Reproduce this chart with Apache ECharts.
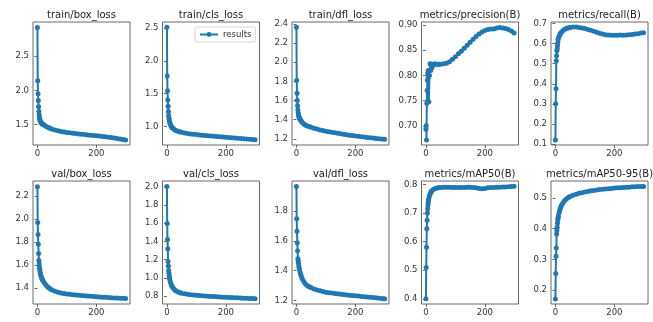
<!DOCTYPE html>
<html>
<head>
<meta charset="utf-8">
<script type="text/javascript" src="https://cdn.jsdelivr.net/npm/echarts@6/dist/echarts.min.js"></script>
<style>
    html, body { margin: 0; padding: 0; background: #fff; }
    #main { width: 653px; height: 322px; }
</style>
</head>
<body>
<div id="main"></div>
<script>
    var epochs = [0,1,2,3,4,5,6,7,8,9,10,12,14,16,18,20,25,30,35,40,45,50,60,70,80,90,100,110,120,130,140,150,160,170,180,190,200,210,220,230,240,250,260,270,280,290,299];

    var trainBox = [2.92,2.14,1.95,1.85,1.76,1.69,1.64,1.60,1.58,1.56,1.545,1.53,1.52,1.51,1.505,1.50,1.485,1.47,1.46,1.45,1.44,1.43,1.418,1.408,1.399,1.391,1.384,1.378,1.372,1.367,1.362,1.357,1.352,1.348,1.343,1.339,1.335,1.330,1.325,1.320,1.314,1.308,1.302,1.295,1.288,1.280,1.272];
    var trainCls = [2.51,1.77,1.545,1.405,1.31,1.23,1.17,1.13,1.10,1.075,1.055,1.03,1.01,0.995,0.983,0.973,0.955,0.942,0.932,0.925,0.918,0.912,0.903,0.895,0.889,0.883,0.878,0.873,0.869,0.865,0.861,0.857,0.853,0.849,0.845,0.841,0.838,0.834,0.830,0.826,0.822,0.818,0.814,0.810,0.806,0.802,0.798];
    var trainDfl = [2.365,1.81,1.675,1.60,1.545,1.50,1.47,1.45,1.435,1.425,1.42,1.405,1.395,1.386,1.378,1.37,1.355,1.345,1.337,1.33,1.325,1.32,1.31,1.301,1.293,1.286,1.279,1.273,1.267,1.262,1.257,1.252,1.247,1.243,1.238,1.234,1.23,1.226,1.222,1.218,1.214,1.21,1.207,1.204,1.201,1.198,1.195];
    var precision = [0.693,0.700,0.672,0.745,0.770,0.790,0.805,0.795,0.810,0.800,0.748,0.800,0.823,0.810,0.822,0.815,0.820,0.823,0.822,0.822,0.822,0.822,0.823,0.824,0.827,0.832,0.837,0.843,0.848,0.854,0.860,0.866,0.872,0.877,0.882,0.886,0.889,0.891,0.892,0.892,0.894,0.895,0.894,0.893,0.891,0.888,0.884];
    var recall = [0.12,0.30,0.375,0.515,0.54,0.565,0.575,0.59,0.605,0.62,0.628,0.635,0.642,0.648,0.653,0.657,0.664,0.670,0.674,0.677,0.679,0.681,0.683,0.683,0.681,0.678,0.675,0.671,0.667,0.662,0.657,0.652,0.648,0.645,0.643,0.642,0.642,0.642,0.643,0.642,0.643,0.644,0.646,0.648,0.650,0.653,0.655];
    var valBox = [2.28,1.97,1.865,1.78,1.70,1.64,1.61,1.58,1.56,1.54,1.525,1.505,1.49,1.478,1.468,1.46,1.44,1.425,1.41,1.40,1.39,1.383,1.372,1.364,1.358,1.353,1.349,1.346,1.343,1.34,1.337,1.335,1.333,1.331,1.329,1.327,1.325,1.323,1.321,1.32,1.318,1.317,1.315,1.314,1.312,1.311,1.31];
    var valCls = [2.0,1.595,1.42,1.32,1.18,1.13,1.08,1.05,1.02,1.0,0.98,0.955,0.935,0.918,0.905,0.895,0.875,0.86,0.851,0.844,0.838,0.833,0.826,0.821,0.817,0.813,0.81,0.807,0.805,0.802,0.8,0.798,0.796,0.794,0.792,0.79,0.788,0.786,0.785,0.783,0.782,0.78,0.779,0.777,0.776,0.774,0.773];
    var valDfl = [1.963,1.747,1.664,1.587,1.534,1.48,1.465,1.45,1.435,1.422,1.41,1.392,1.378,1.366,1.355,1.345,1.327,1.313,1.303,1.296,1.29,1.285,1.277,1.27,1.265,1.26,1.256,1.253,1.25,1.247,1.245,1.243,1.24,1.238,1.236,1.234,1.232,1.23,1.228,1.226,1.224,1.222,1.22,1.218,1.216,1.214,1.212];
    var map50 = [0.40,0.51,0.58,0.645,0.675,0.70,0.715,0.728,0.738,0.746,0.752,0.76,0.766,0.771,0.775,0.778,0.782,0.785,0.787,0.788,0.789,0.789,0.79,0.79,0.79,0.789,0.789,0.789,0.789,0.789,0.79,0.79,0.789,0.788,0.786,0.785,0.786,0.788,0.789,0.789,0.79,0.79,0.791,0.791,0.792,0.793,0.794];
    var map5095 = [0.171,0.254,0.31,0.337,0.383,0.395,0.405,0.418,0.428,0.434,0.44,0.45,0.458,0.465,0.47,0.475,0.483,0.49,0.495,0.499,0.502,0.505,0.509,0.512,0.515,0.517,0.519,0.521,0.523,0.524,0.526,0.527,0.528,0.529,0.53,0.531,0.532,0.533,0.533,0.534,0.535,0.535,0.536,0.536,0.537,0.537,0.537];

    var titles = ['train/box_loss','train/cls_loss','train/dfl_loss','metrics/precision(B)','metrics/recall(B)',
                  'val/box_loss','val/cls_loss','val/dfl_loss','metrics/mAP50(B)','metrics/mAP50-95(B)'];
    var values = [trainBox, trainCls, trainDfl, precision, recall, valBox, valCls, valDfl, map50, map5095];

    var xTicks = [0, 200];
    var yTicks = [
        [1.5, 2.0, 2.5],
        [1.0, 1.5, 2.0, 2.5],
        [1.2, 1.4, 1.6, 1.8, 2.0, 2.2, 2.4],
        [0.70, 0.75, 0.80, 0.85, 0.90],
        [0.1, 0.2, 0.3, 0.4, 0.5, 0.6, 0.7],
        [1.4, 1.6, 1.8, 2.0, 2.2],
        [0.8, 1.0, 1.2, 1.4, 1.6, 1.8, 2.0],
        [1.2, 1.4, 1.6, 1.8],
        [0.4, 0.5, 0.6, 0.7, 0.8],
        [0.2, 0.3, 0.4, 0.5]
    ];
    var yDecimals = [1, 1, 1, 2, 1, 1, 1, 1, 1, 1];
    var yMin = [1.20, 0.72, 1.135, 0.662, 0.095, 1.262, 0.715, 1.177, 0.382, 0.155];
    var yMax = [3.00, 2.59, 2.42, 0.906, 0.708, 2.33, 2.06, 2.00, 0.812, 0.555];

    // panel geometry (px)
    var colLeft = [33, 162.5, 292, 421.5, 551];
    var rowTop = [22, 181];
    var boxW = 97, boxH = 123;

    var blue = '#1f77b4';
    var font = 'DejaVu Sans';

    var grids = [], xAxes = [], yAxes = [], seriesList = [], titleList = [];
    for (var i = 0; i < 10; i++) {
        var gLeft = colLeft[i % 5];
        var gTop = rowTop[Math.floor(i / 5)];   // not "top": that is window.top
        grids.push({
            left: gLeft, top: gTop, width: boxW, height: boxH,
            show: true, borderColor: '#444', borderWidth: 0.8, backgroundColor: '#fff'
        });
        titleList.push({
            text: titles[i],
            left: gLeft + boxW / 2,
            top: gTop - 12,
            textAlign: 'center',
            padding: 0,
            textStyle: { fontFamily: font, fontSize: 10, fontWeight: 'normal', color: '#222' }
        });
        xAxes.push({
            type: 'value', gridIndex: i, min: -15, max: 314,
            axisLine: { show: false },
            splitLine: { show: false },
            axisTick: { show: true, length: 3, customValues: xTicks, lineStyle: { color: '#444', width: 0.8 } },
            axisLabel: { customValues: xTicks, fontFamily: font, fontSize: 8.5, color: '#333', margin: 4 }
        });
        (function (dec) {
            yAxes.push({
                type: 'value', gridIndex: i, min: yMin[i], max: yMax[i],
                axisLine: { show: false },
                splitLine: { show: false },
                axisTick: { show: true, length: 3, customValues: yTicks[i], lineStyle: { color: '#444', width: 0.8 } },
                axisLabel: {
                    customValues: yTicks[i], fontFamily: font, fontSize: 8.5, color: '#333', margin: 4,
                    formatter: function (v) { return v.toFixed(dec); }
                }
            });
        })(yDecimals[i]);
        seriesList.push({
            name: 'results',
            type: 'line',
            xAxisIndex: i, yAxisIndex: i,
            data: epochs.map(function (e, k) { return [e, values[i][k]]; }),
            symbol: 'circle',
            symbolSize: 5,
            showSymbol: true,
            showAllSymbol: true,
            lineStyle: { color: blue, width: 2 },
            itemStyle: { color: blue },
            emphasis: { disabled: true }
        });
    }

    var myChart = echarts.init(document.getElementById('main'));
    var option = {
        animation: false,
        backgroundColor: '#fff',
        title: titleList,
        grid: grids,
        xAxis: xAxes,
        yAxis: yAxes,
        legend: {
            data: ['results'],
            left: 195, top: 27,
            padding: [3, 4],
            itemWidth: 18, itemHeight: 6,
            borderColor: '#ccc', borderWidth: 0.8, borderRadius: 2,
            backgroundColor: '#fff',
            textStyle: { fontFamily: font, fontSize: 8.5, color: '#333' }
        },
        series: seriesList
    };
    myChart.setOption(option);
</script>
</body>
</html>
